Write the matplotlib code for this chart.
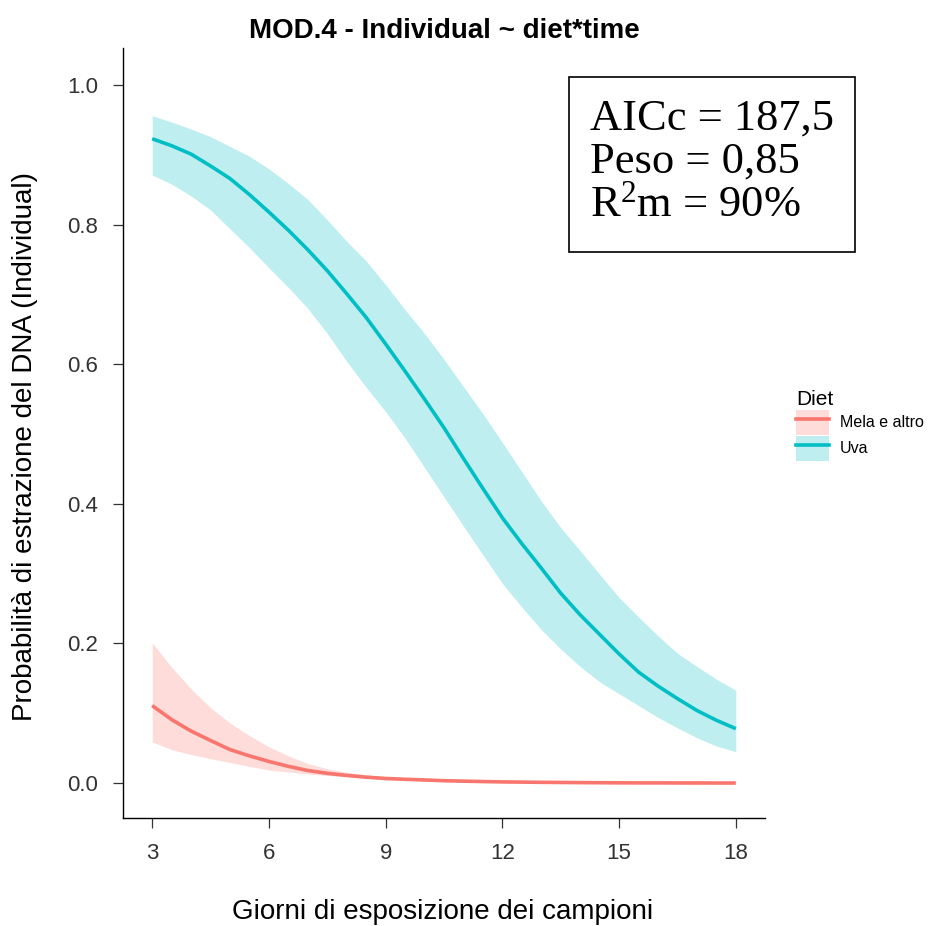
import matplotlib
matplotlib.use('Agg')
import matplotlib.pyplot as plt
from matplotlib.patches import Patch, Rectangle
from matplotlib.lines import Line2D

plt.rcParams['font.family'] = ['Liberation Sans', 'DejaVu Sans']
plt.rcParams['mathtext.fontset'] = 'custom'
plt.rcParams['mathtext.rm'] = 'Liberation Serif'
plt.rcParams['mathtext.it'] = 'Liberation Serif:italic'

# giorni di esposizione
days = [3, 3.5, 4, 4.5, 5, 5.5, 6, 6.5, 7, 7.5, 8, 8.5, 9, 9.5, 10, 10.5,
        11, 11.5, 12, 12.5, 13, 13.5, 14, 14.5, 15, 15.5, 16, 16.5, 17,
        17.5, 18]

# Uva: fit + intervallo
uva_fit = [0.923, 0.913, 0.901, 0.884, 0.866, 0.843, 0.818, 0.792, 0.764,
           0.734, 0.701, 0.667, 0.629, 0.590, 0.550, 0.509, 0.465, 0.422,
           0.380, 0.343, 0.308, 0.272, 0.241, 0.213, 0.185, 0.159, 0.139,
           0.121, 0.104, 0.090, 0.078]
uva_hi = [0.956, 0.947, 0.937, 0.926, 0.912, 0.898, 0.880, 0.859, 0.836,
          0.807, 0.776, 0.748, 0.714, 0.678, 0.644, 0.607, 0.568, 0.529,
          0.488, 0.446, 0.404, 0.366, 0.333, 0.299, 0.266, 0.238, 0.211,
          0.186, 0.167, 0.149, 0.133]
uva_lo = [0.871, 0.858, 0.841, 0.821, 0.794, 0.767, 0.738, 0.710, 0.680,
          0.644, 0.604, 0.567, 0.532, 0.494, 0.452, 0.410, 0.368, 0.327,
          0.286, 0.252, 0.220, 0.192, 0.167, 0.145, 0.128, 0.111, 0.094,
          0.079, 0.065, 0.053, 0.045]

# Mela e altro: fit + intervallo
mela_fit = [0.111, 0.091, 0.0745, 0.061, 0.048, 0.039, 0.031, 0.024, 0.018,
            0.014, 0.011, 0.0085, 0.0066, 0.0055, 0.0045, 0.0034, 0.0028,
            0.0022, 0.0017, 0.0014, 0.0011, 0.0009, 0.0007, 0.0005, 0.0004,
            0.0003, 0.0003, 0.0002, 0.0002, 0.0001, 0.0001]
mela_hi = [0.201, 0.166, 0.135, 0.108, 0.086, 0.068, 0.052, 0.039, 0.028,
           0.0205, 0.0155, 0.012, 0.009, 0.007, 0.0055, 0.0043, 0.0033,
           0.0027, 0.0021, 0.0017, 0.0013, 0.001, 0.0008, 0.0006, 0.0005,
           0.0004, 0.0003, 0.0003, 0.0002, 0.0002, 0.0001]
mela_lo = [0.059, 0.048, 0.041, 0.035, 0.0295, 0.024, 0.0187, 0.016, 0.013,
           0.011, 0.0088, 0.007, 0.005, 0.004, 0.003, 0.0025, 0.0019,
           0.0015, 0.0012, 0.001, 0.0008, 0.0006, 0.0005, 0.0004, 0.0003,
           0.0002, 0.0002, 0.0001, 0.0001, 0.0001, 0.0]

diet_labels = ['Mela e altro', 'Uva']
diet_colors = ['#F8766D', '#00BFC4']
x_ticks = [3, 6, 9, 12, 15, 18]
y_ticks = [0.0, 0.2, 0.4, 0.6, 0.8, 1.0]
stats_lines = ['AICc = 187,5', 'Peso = 0,85', 'R$^2$m = 90%']

W, H = 941, 926
fig = plt.figure(figsize=(W / 100, H / 100), dpi=100)
ax = fig.add_axes([123 / W, 1 - 818 / H, 642 / W, 770 / H])

series = [(mela_fit, mela_lo, mela_hi), (uva_fit, uva_lo, uva_hi)]
for (fit, lo, hi), col in zip(series, diet_colors):
    ax.fill_between(days, lo, hi, color=col, alpha=0.25, lw=0)
    ax.plot(days, fit, color=col, lw=2.6, solid_capstyle='butt',
            solid_joinstyle='round')

ax.set_xlim(2.25, 18.75)
ax.set_ylim(-0.05, 1.053)
ax.set_xticks(x_ticks)
ax.set_xticklabels([str(t) for t in x_ticks])
ax.set_yticks(y_ticks)
ax.set_yticklabels(['%.1f' % t for t in y_ticks])

for s in ['top', 'right']:
    ax.spines[s].set_visible(False)
for s in ['left', 'bottom']:
    ax.spines[s].set_linewidth(1.0)
    ax.spines[s].set_color('black')
ax.tick_params(axis='both', direction='out', length=7, width=0.9,
               color='#333333', labelcolor='#333333', labelsize=16)
ax.tick_params(axis='x', pad=11)
ax.tick_params(axis='y', pad=11)

ax.set_xlabel('Giorni di esposizione dei campioni', fontsize=20)
ax.set_ylabel('Probabilità di estrazione del DNA (Individual)', fontsize=20)
ax.xaxis.set_label_coords(0.4984, -0.122)
ax.xaxis.label.set_va('center')
ax.yaxis.set_label_coords(-0.153, 0.483)
ax.yaxis.label.set_va('center')

ax.set_title('MOD.4 - Individual ~ diet*time', fontsize=20,
             fontweight='bold', pad=7)

# legenda
handles = [(Patch(facecolor=c, alpha=0.25, lw=0),
            Line2D([], [], color=c, lw=2.6)) for c in diet_colors]
leg = fig.legend(handles, diet_labels, title='Diet', loc='upper left',
                 bbox_to_anchor=(796 / W, 1 - 390 / H), frameon=False,
                 fontsize=11.5, title_fontsize=15, alignment='left',
                 handlelength=2.05, handleheight=2.05, labelspacing=0.05,
                 handletextpad=0.7, borderpad=0, borderaxespad=0)

# riquadro con statistiche
box = Rectangle((569 / W, 1 - 252 / H), 286 / W, 175 / H,
                transform=fig.transFigure, facecolor='white',
                edgecolor='black', lw=1.2, zorder=5)
fig.patches.append(box)
for i, line in enumerate(stats_lines):
    fig.text(590 / W, 1 - (130 + 43 * i) / H, line, family='Liberation Serif',
             fontsize=32, va='baseline', ha='left', zorder=6)

fig.savefig('out.png', dpi=100)
